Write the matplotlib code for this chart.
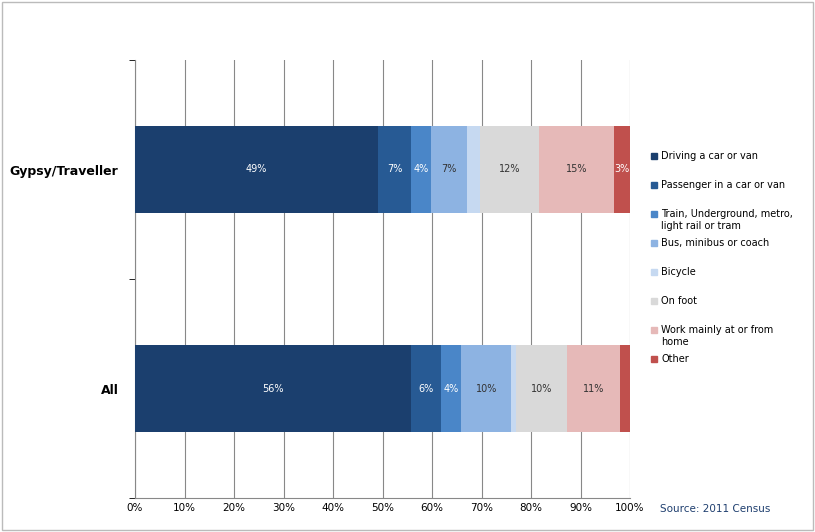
import matplotlib
matplotlib.use("Agg")
import matplotlib.pyplot as plt
from matplotlib.patches import Rectangle

categories = ["All", "Gypsy/Traveller"]
modes = ["Driving a car or van", "Passenger in a car or van",
         "Train, Underground, metro,\nlight rail or tram", "Bus, minibus or coach",
         "Bicycle", "On foot", "Work mainly at or from\nhome", "Other"]
gypsy = [49.1, 6.7, 4.0, 7.3, 2.6, 11.9, 15.2, 3.2]
allp = [55.8, 6.0, 4.1, 10.1, 1.0, 10.3, 10.7, 2.0]
gypsy_labels = ["49%", "7%", "4%", "7%", "", "12%", "15%", "3%"]
all_labels = ["56%", "6%", "4%", "10%", "", "10%", "11%", ""]
colors = ["#1B3F6E", "#275A94", "#4A86C8", "#8DB3E2", "#C6D9F1", "#D9D9D9", "#E6B9B8", "#C0504D"]
txtcol = ["white", "white", "white", "#333333", "#333333", "#333333", "#333333", "white"]

fig = plt.figure(figsize=(8.15, 5.32), dpi=100)
fig.patches.append(Rectangle((0.003, 0.003), 0.994, 0.994, transform=fig.transFigure,
                             fill=False, edgecolor="#BBBBBB", lw=1))
ax = fig.add_axes([135/815, 34/532, 495/815, 438/532])
data = [allp, gypsy]
labs = [all_labels, gypsy_labels]
for i, (vals, ls) in enumerate(zip(data, labs)):
    left = 0
    for j, v in enumerate(vals):
        ax.barh(i, v, left=left, height=0.4, color=colors[j], zorder=3)
        if ls[j]:
            ax.text(left + v/2, i, ls[j], ha="center", va="center", fontsize=7, color=txtcol[j], zorder=4)
        left += v
ax.set_xlim(0, 100)
ax.set_ylim(-0.5, 1.5)
ax.set_xticks(range(0, 101, 10))
ax.set_xticklabels([f"{x}%" for x in range(0, 101, 10)], fontsize=7.5)
ax.set_yticks([0, 1])
ax.set_yticklabels(categories, fontsize=9, fontweight="bold")
ax.set_yticks([-0.5, 0.5, 1.5], minor=True)
ax.tick_params(axis="y", which="major", length=0, pad=12)
ax.tick_params(axis="y", which="minor", length=4)
ax.tick_params(axis="x", length=0)
ax.xaxis.grid(True, color="#888888", lw=0.8, zorder=0)
for s in ["top", "right"]:
    ax.spines[s].set_visible(False)
ax.spines["left"].set_color("#888888")
ax.spines["bottom"].set_color("#888888")

y0 = 156
for j, m in enumerate(modes):
    y = y0 + j*29
    fig.patches.append(Rectangle((651/815, 1 - (y+3)/532), 6/815, 6/532, transform=fig.transFigure,
                                 color=colors[j]))
    fig.text(661/815, 1 - (y-5)/532, m, fontsize=7, va="top", ha="left", linespacing=1.3)
fig.text(0.945, 1 - 509/532, "Source: 2011 Census", fontsize=7.5, color="#1F3F6F", ha="right", va="center")
fig.savefig("out.png", dpi=100)
